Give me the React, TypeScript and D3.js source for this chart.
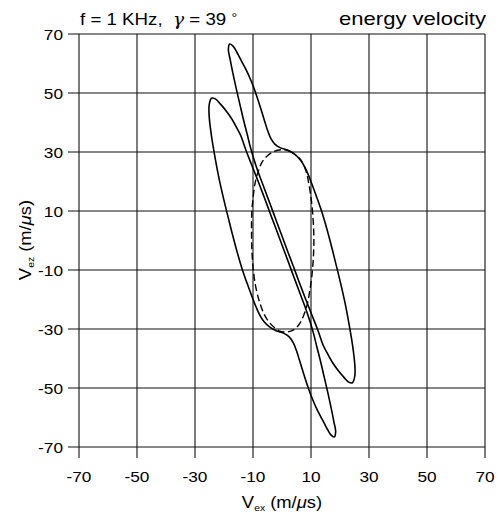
import React from "react";
import * as d3 from "d3";

type P = [number, number];

// x/z ticks (m/us)
const ticks: number[] = [-70, -50, -30, -10, 10, 30, 50, 70];

// solid loop A (energy velocity, branch 1)
const curveA: P[] = [
  [-18, 66.6], [-16.8, 65.8], [-15.6, 63.9], [-14.5, 61.8], [-13.3, 59.6], [-12.1, 57.3],
  [-11, 54.9], [-9.9, 52.3], [-8.9, 49.5], [-7.9, 46.5], [-6.9, 43.4], [-5.9, 40.2],
  [-5, 37.4], [-4, 34.9], [-2.4, 32.6], [-0.5, 31.4],
  [2, 30.6], [4.3, 29.3], [6.3, 27.4], [8.3, 24], [10.2, 19.4], [12, 14.6], [13.7, 9.8],
  [15.5, 3.8], [17.1, -2.1], [18.6, -8], [20, -13.6], [21.7, -21], [23.2, -28.8],
  [24.4, -36], [25.1, -42], [25.1, -46], [24.3, -48.2], [23, -48], [21.3, -46.3],
  [19.3, -44], [17.3, -41.2], [15.6, -38.2], [14.2, -35.5], [12.4, -30.5], [10.2, -25],
  [8, -19.5], [6, -14.3], [4, -9], [2, -3.8], [0, 1.5], [-2, 6.8], [-4, 12.1], [-6, 17.4],
  [-8, 22.6], [-9.8, 27.9], [-11, 32], [-12, 36], [-13.3, 41], [-14.6, 46.5], [-15.9, 52],
  [-17, 57], [-17.9, 61.5], [-18.5, 64.8],
];

// solid loop B (energy velocity, branch 2)
const curveB: P[] = [
  [18, -66.6], [16.8, -65.8], [15.6, -63.9], [14.5, -61.8], [13.3, -59.6], [12.1, -57.3],
  [11, -54.9], [9.9, -52.3], [8.9, -49.5], [7.9, -46.5], [6.9, -43.4], [5.9, -40.2],
  [5, -37.4], [4, -34.9], [2.4, -32.6], [0.5, -31.4],
  [-2, -30.6], [-4.3, -29.3], [-6.3, -27.4], [-8.3, -24], [-10.2, -19.4], [-12, -14.6],
  [-13.7, -9.8], [-15.5, -3.8], [-17.1, 2.1], [-18.6, 8], [-20, 13.6], [-21.7, 21],
  [-23.2, 28.8], [-24.4, 36], [-25.1, 42], [-25.1, 46], [-24.3, 48.2], [-23, 48],
  [-21.3, 46.3], [-19.3, 44], [-17.3, 41.2], [-15.6, 38.2], [-14.2, 35.5], [-12.4, 30.5],
  [-10.2, 25], [-8, 19.5], [-6, 14.3], [-4, 9], [-2, 3.8], [0, -1.5], [2, -6.8], [4, -12.1],
  [6, -17.4], [8, -22.6], [9.8, -27.9], [11, -32], [12, -36], [13.3, -41], [14.6, -46.5],
  [15.9, -52], [17, -57], [17.9, -61.5], [18.5, -64.8],
];

// dashed closed curve
const curveDashed: P[] = [
  [0, 30.8], [2.8, 30.2], [5, 28.8], [6.5, 27.3], [8.3, 23.5], [9.2, 19.5], [10.2, 13],
  [10.8, 6], [11, 0], [10.8, -6], [10.3, -12], [9.5, -17.5], [8.5, -22.4], [6.2, -28],
  [4, -30.3], [1.6, -31], [-1, -30.6], [-4.1, -28.1], [-6, -25.3], [-7.6, -21.3],
  [-9, -16], [-9.9, -10], [-10.4, -3], [-10.5, 3], [-10.4, 9.8], [-9.9, 15], [-9.3, 19.4],
  [-8, 24], [-6.4, 27.3], [-3, 30.1],
];

const W = 498;
const H = 517;
const FONT = "'Liberation Sans', Arial, Helvetica, sans-serif";
const SX = 1.15;

export default function App() {
  const x = d3.scaleLinear().domain([-70, 70]).range([79, 485]);
  const y = d3.scaleLinear().domain([-70, 70]).range([447, 34]);
  const line = d3
    .line<P>()
    .x((d) => x(d[0]))
    .y((d) => y(d[1]))
    .curve(d3.curveCatmullRomClosed.alpha(0.5));

  const tickLen = 11;
  return (
    <svg
      width={W}
      height={H}
      style={{ position: "absolute", left: 0, top: 0, background: "#fff" }}
      fontFamily={FONT}
    >
      <rect x={0} y={0} width={W} height={H} fill="#fff" />
      {/* grid */}
      {ticks.map((t) => (
        <line
          key={"v" + t}
          x1={x(t)}
          x2={x(t)}
          y1={y(70)}
          y2={y(-70) + tickLen}
          stroke="#111"
          strokeWidth={1.1}
        />
      ))}
      {ticks.map((t) => (
        <line
          key={"h" + t}
          x1={x(-70) - tickLen}
          x2={x(70)}
          y1={y(t)}
          y2={y(t)}
          stroke="#111"
          strokeWidth={1.1}
        />
      ))}
      {/* tick labels */}
      {ticks.map((t) => (
        <text
          key={"xl" + t}
          transform={`translate(${x(t)},${y(-70) + 35}) scale(${SX},1)`}
          textAnchor="middle"
          fontSize={15}
          fill="#000"
        >
          {t}
        </text>
      ))}
      {ticks.map((t) => (
        <text
          key={"yl" + t}
          transform={`translate(${x(-70) - 16},${y(t) + 5.5}) scale(${SX},1)`}
          textAnchor="end"
          fontSize={15}
          fill="#000"
        >
          {t}
        </text>
      ))}
      {/* curves */}
      <path d={line(curveDashed) || ""} fill="none" stroke="#000" strokeWidth={1.4} strokeDasharray="7,3.5" />
      <path d={line(curveA) || ""} fill="none" stroke="#000" strokeWidth={1.6} />
      <path d={line(curveB) || ""} fill="none" stroke="#000" strokeWidth={1.6} />
      {/* titles */}
      <text transform={`translate(80,25) scale(1.1,1)`} fontSize={17} fill="#000">
        f = 1 KHz,{"\u00a0\u00a0"}
        <tspan fontStyle="italic" fontFamily="'DejaVu Serif', serif">γ</tspan>
        {" = 39 "}
        <tspan fontSize={13} dy={-3}>°</tspan>
      </text>
      <text transform={`translate(486,25) scale(1.16,1)`} textAnchor="end" fontSize={19} fill="#000">
        energy velocity
      </text>
      {/* x axis title */}
      <text transform={`translate(282,508) scale(${SX},1)`} textAnchor="middle" fontSize={16} fill="#000">
        V<tspan fontSize={9} dy={3}>ex</tspan>
        <tspan dy={-3}> (m/</tspan>
        <tspan fontStyle="italic">μ</tspan>s)
      </text>
      {/* y axis title */}
      <text transform={`translate(31,240) rotate(-90) scale(${SX},1)`} textAnchor="middle" fontSize={16} fill="#000">
        V<tspan fontSize={9} dy={3}>ez</tspan>
        <tspan dy={-3}> (m/</tspan>
        <tspan fontStyle="italic">μ</tspan>s)
      </text>
    </svg>
  );
}
